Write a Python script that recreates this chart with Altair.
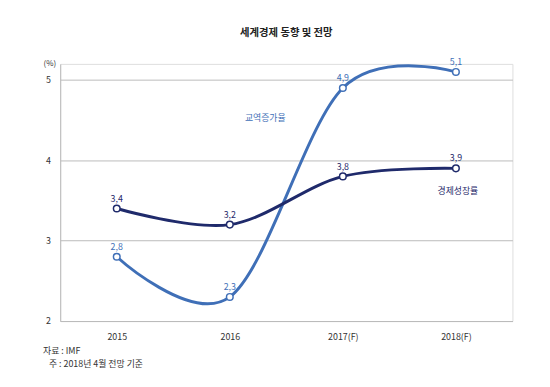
import altair as alt
import pandas as pd

years = ["2015", "2016", "2017(F)", "2018(F)"]
growth = [3.4, 3.2, 3.8, 3.9]
trade = [2.8, 2.3, 4.9, 5.1]
growth_labels = ["3,4", "3,2", "3,8", "3,9"]
trade_labels = ["2,8", "2,3", "4,9", "5,1"]

series_names = ["교역증가율", "경제성장률"]
series_label_year = ["2016", "2018(F)"]
series_label_value = [4.53, 3.62]

FONT = "Noto Sans CJK KR"
C_TRADE = "#3f6fb7"
C_GROWTH = "#1f2a6b"

rows = []
for i, y in enumerate(years):
    rows.append({"year": y, "value": trade[i], "label": trade_labels[i], "series": "trade"})
    rows.append({"year": y, "value": growth[i], "label": growth_labels[i], "series": "growth"})
df = pd.DataFrame(rows)

xs = alt.X("year:N", sort=years, scale=alt.Scale(type="point", padding=0.5),
           axis=alt.Axis(title=["자료 : IMF", "\u200b\u00a0\u00a0\u00a0주 : 2018년 4월 전망 기준"],
                         titleX=-18, titleY=26, titleAlign="left", titleAnchor="start",
                         titleBaseline="top", titleFont=FONT, titleFontSize=9,
                         titleFontWeight="normal", titleColor="#333", titleLineHeight=13,
                         labelAngle=0, labelFont=FONT, labelFontSize=9, labelColor="#333",
                         labelPadding=12, ticks=False, domain=True, domainColor="#bbbbbb",
                         grid=False))
ys = alt.Y("value:Q", scale=alt.Scale(domain=[2, 5.2], nice=False, zero=False),
           axis=alt.Axis(values=[2, 3, 4, 5], format="d", title="(%)", titleAngle=0,
                         titleX=-11, titleY=0, titleAlign="center", titleBaseline="middle",
                         titleFont=FONT, titleFontSize=8, titleFontWeight="normal",
                         titleColor="#333", labelFont=FONT, labelFontSize=9,
                         labelColor="#333", labelPadding=10, ticks=False,
                         domainColor="#bbbbbb", grid=True, gridColor="#bbbbbb",
                         gridWidth=1))

color_scale = alt.Scale(domain=["trade", "growth"], range=[C_TRADE, C_GROWTH])

base = alt.Chart(df)

lines = base.mark_line(interpolate="cardinal", strokeWidth=3).encode(
    x=xs, y=ys,
    color=alt.Color("series:N", scale=color_scale, legend=None),
    detail="series:N",
)
points = base.mark_point(shape="circle", filled=True, fill="white", size=45,
                         strokeWidth=1.5, opacity=1).encode(
    x="year:N", y="value:Q",
    stroke=alt.Stroke("series:N", scale=color_scale, legend=None),
)
labels = base.mark_text(dy=-10, font=FONT, fontSize=9).encode(
    x="year:N", y="value:Q", text="label:N",
    color=alt.Color("series:N", scale=color_scale, legend=None),
)

sdf = pd.DataFrame({"year": series_label_year, "value": series_label_value,
                    "name": series_names, "series": ["trade", "growth"]})
series_text_trade = alt.Chart(sdf[sdf.series == "trade"]).mark_text(
    font=FONT, fontSize=9, dx=36, color=C_TRADE).encode(
    x="year:N", y="value:Q", text="name:N")
series_text_growth = alt.Chart(sdf[sdf.series == "growth"]).mark_text(
    font=FONT, fontSize=9, dx=2, color=C_GROWTH).encode(
    x="year:N", y="value:Q", text="name:N")

chart = alt.layer(lines, points, labels, series_text_trade, series_text_growth).properties(
    width=459, height=261,
    title=alt.TitleParams("세계경제 동향 및 전망", font=FONT, fontSize=10.5,
                          fontWeight="bold", color="#222", anchor="middle", offset=20),
    autosize=alt.AutoSizeParams(type="none"),
    padding={"left": 53, "top": 54, "right": 30, "bottom": 50},
).configure_view(stroke=None).configure(background="white")

chart.save("out.html", embed_options={"renderer": "svg", "actions": False})
